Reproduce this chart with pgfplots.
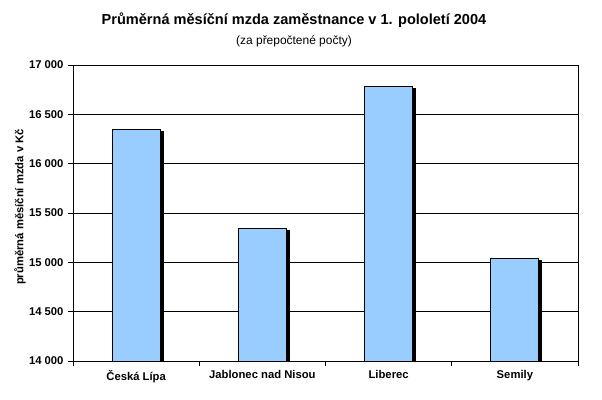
\documentclass[border=0pt]{standalone}
\usepackage{pgfplots}
\pgfplotsset{compat=1.18}
\usepackage{fontspec}
\setmainfont{Liberation Sans}
\usetikzlibrary{shadows}
\definecolor{barblue}{RGB}{153,204,255}
\begin{document}
\begin{tikzpicture}[x=1bp,y=1bp]
\useasboundingbox (0,0) rectangle (602,399);
\begin{axis}[
  at={(73bp,38bp)}, anchor=south west,
  scale only axis, width=505bp, height=296bp,
  xmin=-0.5, xmax=3.5, ymin=14000, ymax=17000,
  scaled y ticks=false,
  ytick={14000,14500,15000,15500,16000,16500,17000},
  yticklabels={14 000,14 500,15 000,15 500,16 000,16 500,17 000},
  xtick={-0.5,0.5,1.5,2.5,3.5},
  xticklabels={},
  extra x ticks={0,1,2,3},
  extra x tick labels={Česká Lípa, Jablonec nad Nisou, Liberec, Semily},
  extra x tick style={major tick length=0pt, grid=none},
  xtick pos=bottom, ytick pos=left,
  tick align=outside,
  major tick length=5bp,
  ymajorgrids,
  grid style={black, line width=1bp},
  axis line style={black, line width=1bp},
  every tick/.style={black, line width=1bp},
  ticklabel style={font=\fontsize{11.3}{13}\selectfont\bfseries},
  yticklabel style={xshift=-1bp},
  xticklabel style={yshift=-6bp},
  clip=true,
]
\addplot[ybar, bar width=48bp, fill=barblue, draw=black, line width=0.9bp,
  drop shadow={shadow xshift=3bp, shadow yshift=-2.5bp, fill=black, opacity=1}]
  coordinates {(0,16350) (1,15345) (2,16785) (3,15040)};
\end{axis}
\node[font=\fontsize{14.6}{17}\selectfont\bfseries] at (294,379) {Průměrná měsíční mzda zaměstnance v 1. pololetí 2004};
\node[font=\fontsize{12}{14}\selectfont] at (294,358) {(za přepočtené počty)};
\node[rotate=90, font=\fontsize{11.3}{13}\selectfont\bfseries] at (20,192) {průměrná měsíční mzda v Kč};
\end{tikzpicture}
\end{document}
